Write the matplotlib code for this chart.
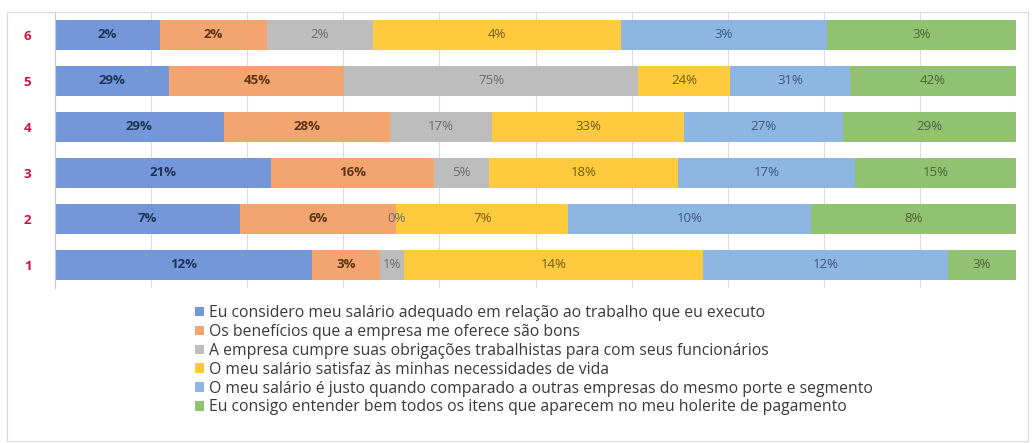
import numpy as np
import matplotlib.pyplot as plt
from matplotlib.patches import Patch, Rectangle

plt.rcParams['font.family'] = ['Open Sans', 'DejaVu Sans']

rows = ['1', '2', '3', '4', '5', '6']

# values per statement, rows 1..6 (label shows the rounded value)
salario_adequado = [12.1, 7.3, 20.6, 28.6, 29.2, 1.75]
beneficios = [3.2, 6.2, 15.6, 28.2, 44.8, 1.78]
obrigacoes = [1.1, 0.0, 5.3, 17.3, 75.0, 1.76]
necessidades = [14.1, 6.8, 18.0, 32.6, 23.7, 4.13]
justo = [11.5, 9.6, 16.9, 26.8, 30.6, 3.44]
holerite = [3.2, 8.1, 15.4, 29.4, 42.4, 3.14]

series_names = [
    'Eu considero meu salário adequado em relação ao trabalho que eu executo',
    'Os benefícios que a empresa me oferece são bons',
    'A empresa cumpre suas obrigações trabalhistas para com seus funcionários',
    'O meu salário satisfaz às minhas necessidades de vida',
    'O meu salário é justo quando comparado a outras empresas do mesmo porte e segmento',
    'Eu consigo entender bem todos os itens que aparecem no meu holerite de pagamento',
]
colors = ['#7397d8', '#f4a46f', '#bdbdbd', '#ffcb3e', '#8db6e3', '#90c271']
text_colors = ['#1f3458', '#5b3414', '#6b6b6b', '#6e5a10', '#3d5877', '#4a6338']
bold = [True, True, False, False, False, False]

data = np.array([salario_adequado, beneficios, obrigacoes, necessidades, justo, holerite])
shares = data / data.sum(axis=0) * 100

fig = plt.figure(figsize=(10.34, 4.43), dpi=100)
ax = fig.add_axes([55 / 1034, 1 - 288 / 443, 961 / 1034, 276 / 443])

y = np.arange(len(rows))
left = np.zeros(len(rows))
for i in range(len(series_names)):
    ax.barh(y, shares[i], left=left, height=0.65, color=colors[i],
            label=series_names[i], zorder=2)
    for j in range(len(rows)):
        ax.text(left[j] + shares[i][j] / 2, y[j], '%d%%' % round(data[i][j]),
                ha='center', va='center', fontsize=9.5, color=text_colors[i],
                fontweight='bold' if bold[i] else 'normal', zorder=3)
    left += shares[i]

ax.set_xlim(0, 100)
ax.set_ylim(-0.5, len(rows) - 0.5)
ax.set_xticks(np.arange(0, 101, 10))
ax.set_xticklabels([])
ax.tick_params(axis='x', length=0)
ax.grid(axis='x', color='#dcdcdc', lw=0.8, zorder=0)
ax.set_yticks(y)
ax.set_yticklabels(rows, color='#d0103a', fontweight='bold', fontsize=9.5)
ax.tick_params(axis='y', length=0, pad=17)
for s in ['top', 'right', 'bottom']:
    ax.spines[s].set_visible(False)
ax.spines['left'].set_color('#c8c8c8')

handles = [Patch(facecolor=c) for c in colors]
fig.legend(handles, series_names, loc='upper left', bbox_to_anchor=(189 / 1034, 1 - 299 / 443),
           frameon=False, fontsize=11.3, labelcolor='#3a3a3a', handlelength=0.55,
           handleheight=0.55, handletextpad=0.3, labelspacing=0.18, borderaxespad=0)

fig.patches.append(Rectangle((7 / 1034, 2 / 443), 1021 / 1034, 429 / 443,
                             transform=fig.transFigure, fill=False, ec='#d9d9d9', lw=0.8))

fig.savefig('out.png', dpi=100)
